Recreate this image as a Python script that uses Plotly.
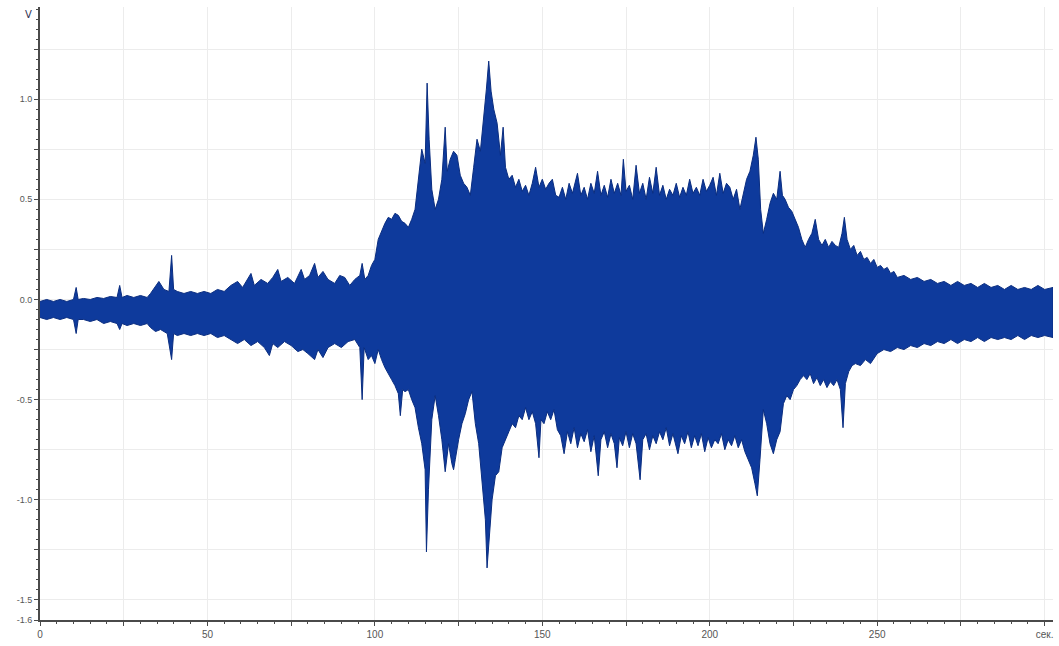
import plotly.graph_objects as go

# ---- data read from the reference (envelope of the recorded signal) ----
# upper envelope: time (s) and voltage (V)
t_upper = (
    [0, 2, 4, 6, 8, 10, 10.8, 11.4, 13, 15, 17, 19, 21, 23, 23.8, 24.5]
    + [26, 28, 30, 32, 33, 34.5, 35.5, 37, 38.5, 39.3, 39.9, 41, 43, 45, 47, 49, 51, 53, 55]
    + [57, 59, 60.5, 62, 63, 64, 66, 68, 69.5, 71, 72, 74, 76, 78, 79, 80.5, 82, 83, 84.5, 86,
       88, 89.5, 91, 92.5, 94, 95.5, 96.2, 97, 98, 99, 100]
    + [101, 102, 103, 104, 105, 106, 107, 108, 109, 110, 111, 112, 113, 114, 115, 115.6, 116.2,
       117, 118, 119, 120]
    + [121, 121.6, 122.5, 123.5, 124.5, 125.5, 126.5, 127.5, 128.5, 129.5, 130.5, 131.5, 132.5,
       133.3, 134, 134.7, 135.5, 136.5, 137.5, 138.3, 139]
    + [140, 141, 142, 143, 144, 145, 146, 147, 148, 149, 150, 151, 152, 153, 154]
    + [155, 156, 157, 158, 159, 160.5, 161.5, 162.5, 163.5, 164.5, 165.5, 166.5, 167.5, 168.5,
       169.5, 170.5, 171.5, 172.5, 173.5, 174.2, 175]
    + [176, 177, 178, 179, 180, 181, 182, 183, 184, 185, 186, 187, 188, 189, 190, 191, 192, 193,
       194, 195, 196]
    + [197, 198, 199, 200, 201, 202, 203, 204, 205, 206, 207, 208, 209, 210, 211, 212, 213,
       213.8, 214.5, 215.2, 216, 217, 218, 219, 220, 221, 221.7, 222.5]
    + [223.5, 224.5, 225.5, 226.5, 227.5, 228.5, 229.5, 230.5, 231.5, 232.5, 233.5, 234.5, 235.5,
       236.5, 237.5, 238.5, 239.5, 240.2, 241, 242, 243, 244, 245, 246, 247, 248, 249, 250, 251,
       252, 253, 254, 255, 256]
    + [258, 260, 262, 264, 266, 268, 270, 272, 274, 276, 278, 280, 282, 284, 286, 288, 290, 292,
       294, 296, 298, 300, 302.5]
)
v_upper = (
    [-0.01, 0.0, -0.01, 0.0, -0.01, 0.0, 0.06, 0.0, 0.005, 0.0, 0.01, 0.005, 0.015, 0.01, 0.07, 0.01]
    + [0.02, 0.01, 0.02, 0.01, 0.03, 0.07, 0.09, 0.05, 0.04, 0.22, 0.05, 0.04, 0.03, 0.04, 0.03,
       0.04, 0.03, 0.05, 0.04]
    + [0.07, 0.09, 0.06, 0.10, 0.13, 0.07, 0.10, 0.08, 0.11, 0.15, 0.09, 0.11, 0.08, 0.15, 0.10,
       0.12, 0.18, 0.11, 0.14, 0.10, 0.08, 0.12, 0.11, 0.07, 0.10, 0.12, 0.18, 0.10, 0.12, 0.17, 0.20]
    + [0.30, 0.34, 0.38, 0.41, 0.40, 0.43, 0.42, 0.39, 0.38, 0.36, 0.40, 0.45, 0.61, 0.75, 0.68,
       1.08, 0.80, 0.55, 0.45, 0.50, 0.60]
    + [0.86, 0.64, 0.70, 0.74, 0.72, 0.62, 0.58, 0.56, 0.52, 0.66, 0.80, 0.74, 0.90, 1.05, 1.19,
       1.04, 0.95, 0.88, 0.72, 0.86, 0.66]
    + [0.60, 0.62, 0.56, 0.60, 0.54, 0.57, 0.52, 0.58, 0.66, 0.56, 0.60, 0.55, 0.58, 0.60, 0.52]
    + [0.51, 0.56, 0.50, 0.58, 0.53, 0.63, 0.52, 0.56, 0.50, 0.58, 0.53, 0.64, 0.52, 0.57, 0.51,
       0.60, 0.53, 0.58, 0.52, 0.70, 0.54]
    + [0.57, 0.50, 0.67, 0.53, 0.58, 0.50, 0.61, 0.53, 0.66, 0.52, 0.57, 0.50, 0.55, 0.52, 0.58,
       0.51, 0.56, 0.52, 0.60, 0.53, 0.56]
    + [0.52, 0.60, 0.54, 0.57, 0.61, 0.52, 0.63, 0.53, 0.58, 0.56, 0.50, 0.55, 0.45, 0.52, 0.60,
       0.64, 0.72, 0.81, 0.70, 0.45, 0.33, 0.40, 0.48, 0.53, 0.50, 0.64, 0.52, 0.50]
    + [0.46, 0.44, 0.40, 0.36, 0.30, 0.26, 0.30, 0.33, 0.40, 0.30, 0.27, 0.30, 0.26, 0.29, 0.27,
       0.26, 0.33, 0.41, 0.30, 0.25, 0.27, 0.22, 0.24, 0.20, 0.21, 0.18, 0.20, 0.16, 0.17, 0.15,
       0.16, 0.13, 0.14, 0.11]
    + [0.12, 0.10, 0.11, 0.09, 0.10, 0.08, 0.09, 0.07, 0.09, 0.07, 0.08, 0.06, 0.08, 0.06, 0.07,
       0.05, 0.07, 0.05, 0.06, 0.05, 0.07, 0.05, 0.06]
)

# lower envelope: time (s) and voltage (V)
t_lower = (
    [0, 2, 4, 6, 8, 10, 10.8, 11.4, 13, 15, 17, 19, 21, 23, 23.8, 24.5]
    + [26, 28, 30, 32, 33, 34.5, 36, 38, 39.3, 39.9, 41, 43, 45, 47, 49, 51, 53, 55]
    + [57, 59, 61, 63, 65, 67, 68.5, 69.5, 71, 73, 75, 77, 78.5, 80, 82, 83, 84.5, 86, 88, 90,
       92, 94, 95.5, 96.2, 96.8, 98, 99, 100]
    + [101, 102, 103, 104, 105, 106, 107, 107.6, 108.3, 109, 110, 111, 112, 113, 114, 115, 115.4,
       116, 117, 118, 119, 120]
    + [121, 122, 123, 123.5, 124, 125, 126, 127, 128, 129, 130, 131, 132, 133, 133.5, 134.2, 135,
       136, 137, 138, 139]
    + [140, 141, 142, 143, 144, 145, 146, 147, 148, 149, 149.6, 150.5, 151.5, 152.5, 153.5, 154.5]
    + [155.5, 156.5, 157.5, 158.5, 159.5, 160.5, 161.5, 162.5, 163.5, 164.5, 165.5, 166.7, 167.5,
       168.5, 169.5, 170.5, 171.5, 172.3, 173, 174, 175, 176, 177, 178, 179.2, 180]
    + [181, 182, 183, 184, 185, 186, 187, 188, 189, 190.5, 191.5, 192.5, 193.5, 194.5, 195.5,
       196.5, 197.5, 198.5, 199.5, 200.5, 201.5, 202.5, 203.5, 204.5, 205.5, 206.5, 207.5, 208.5,
       209.5, 210.5]
    + [211.5, 212.5, 213.5, 214.2, 215, 216, 217, 218, 219, 220, 221, 222, 223, 224, 225, 226,
       227, 228, 229, 230, 231, 232, 233, 234, 235, 236, 237, 238, 239, 239.8, 240.5, 241.5,
       242.5, 243.5, 245, 246.5, 248]
    + [250, 252, 254, 256, 258, 260, 262, 264, 266, 268, 270, 272, 274, 276, 278, 280, 282, 284,
       286, 288, 290, 292, 294, 296, 298, 300, 302.5]
)
v_lower = (
    [-0.09, -0.10, -0.09, -0.10, -0.09, -0.10, -0.17, -0.10, -0.10, -0.11, -0.10, -0.12, -0.11,
     -0.12, -0.15, -0.12]
    + [-0.13, -0.12, -0.13, -0.12, -0.14, -0.16, -0.15, -0.17, -0.30, -0.17, -0.18, -0.17, -0.18,
       -0.17, -0.18, -0.17, -0.19, -0.18]
    + [-0.20, -0.22, -0.20, -0.23, -0.21, -0.24, -0.28, -0.22, -0.24, -0.21, -0.23, -0.26, -0.25,
       -0.27, -0.30, -0.25, -0.29, -0.24, -0.22, -0.24, -0.21, -0.20, -0.24, -0.50, -0.24, -0.30,
       -0.28, -0.32]
    + [-0.25, -0.30, -0.34, -0.37, -0.40, -0.43, -0.47, -0.58, -0.45, -0.46, -0.45, -0.50, -0.54,
       -0.64, -0.72, -0.85, -1.26, -0.95, -0.60, -0.48, -0.58, -0.70]
    + [-0.86, -0.72, -0.82, -0.85, -0.80, -0.70, -0.62, -0.57, -0.50, -0.46, -0.62, -0.72, -0.90,
       -1.10, -1.34, -1.20, -1.00, -0.88, -0.86, -0.74, -0.70]
    + [-0.66, -0.62, -0.64, -0.58, -0.60, -0.54, -0.60, -0.56, -0.62, -0.79, -0.60, -0.62, -0.56,
       -0.60, -0.55, -0.65]
    + [-0.68, -0.77, -0.66, -0.72, -0.64, -0.74, -0.67, -0.71, -0.65, -0.76, -0.68, -0.88, -0.70,
       -0.66, -0.74, -0.67, -0.72, -0.84, -0.69, -0.73, -0.66, -0.74, -0.67, -0.72, -0.90, -0.70]
    + [-0.67, -0.75, -0.68, -0.72, -0.66, -0.70, -0.64, -0.73, -0.67, -0.77, -0.68, -0.72, -0.66,
       -0.74, -0.68, -0.73, -0.67, -0.76, -0.69, -0.74, -0.70, -0.72, -0.67, -0.75, -0.70, -0.73,
       -0.68, -0.74, -0.70, -0.76]
    + [-0.80, -0.84, -0.92, -0.98, -0.80, -0.55, -0.62, -0.72, -0.77, -0.70, -0.66, -0.52, -0.48,
       -0.50, -0.45, -0.43, -0.40, -0.38, -0.40, -0.37, -0.42, -0.39, -0.43, -0.40, -0.44, -0.41,
       -0.43, -0.40, -0.45, -0.64, -0.42, -0.36, -0.33, -0.32, -0.33, -0.30, -0.32]
    + [-0.27, -0.25, -0.26, -0.24, -0.25, -0.23, -0.24, -0.22, -0.23, -0.21, -0.22, -0.20, -0.22,
       -0.20, -0.21, -0.19, -0.21, -0.19, -0.20, -0.19, -0.20, -0.18, -0.20, -0.18, -0.19, -0.18,
       -0.19]
)

assert len(t_upper) == len(v_upper), (len(t_upper), len(v_upper))
assert len(t_lower) == len(v_lower), (len(t_lower), len(v_lower))

# axis ticks
x_tickvals = [0, 25, 50, 75, 100, 125, 150, 175, 200, 225, 250, 275, 300]
x_ticktext = ["0", "", "50", "", "100", "", "150", "", "200", "", "250", "", "сек."]
y_tickvals = [-1.6, -1.5, -1.25, -1.0, -0.75, -0.5, -0.25, 0.0, 0.25, 0.5, 0.75, 1.0, 1.25]
y_ticktext = ["-1.6", "-1.5", "", "-1.0", "", "-0.5", "", "0.0", "", "0.5", "", "1.0", ""]

WAVE = "#0e3a9c"
EDGE = "#0a2d80"
AXIS = "#4a4a4a"
GRID = "#ececec"

fig = go.Figure()
fig.add_trace(go.Scatter(
    x=t_upper + t_lower[::-1],
    y=v_upper + v_lower[::-1],
    mode="lines",
    fill="toself",
    fillcolor=WAVE,
    line=dict(color=EDGE, width=1),
    hoverinfo="skip",
    showlegend=False,
))

tick_font = dict(family="Liberation Sans, Arial, sans-serif", size=9, color="#555555")

fig.update_layout(
    width=1059, height=646,
    margin=dict(l=40, r=6, t=7, b=26),
    paper_bgcolor="white",
    plot_bgcolor="white",
    showlegend=False,
    xaxis=dict(
        range=[0, 302.5],
        tickmode="array", tickvals=x_tickvals, ticktext=x_ticktext,
        showgrid=True, gridcolor=GRID, gridwidth=1,
        zeroline=False,
        showline=True, linecolor=AXIS, linewidth=2,
        ticks="outside", ticklen=4, tickcolor=AXIS, tickwidth=1,
        tickfont=dict(family="Liberation Sans, Arial, sans-serif", size=10, color="#555555"),
        minor=dict(dtick=5, tick0=0, ticks="outside", ticklen=2, tickcolor=AXIS, showgrid=False),
    ),
    yaxis=dict(
        range=[-1.6, 1.46],
        tickmode="array", tickvals=y_tickvals, ticktext=y_ticktext,
        showgrid=True, gridcolor=GRID, gridwidth=1,
        zeroline=False,
        showline=True, linecolor=AXIS, linewidth=2,
        ticks="outside", ticklen=4, tickcolor=AXIS, tickwidth=1,
        tickfont=tick_font,
        minor=dict(dtick=0.05, tick0=0, ticks="outside", ticklen=2, tickcolor=AXIS, showgrid=False),
    ),
    annotations=[dict(
        text="V", xref="paper", yref="paper", x=-0.011, y=0.988,
        xanchor="center", yanchor="middle", showarrow=False,
        font=dict(family="DejaVu Sans, sans-serif", size=10, color="#333355"),
    )],
)

fig.write_html("out.html")
